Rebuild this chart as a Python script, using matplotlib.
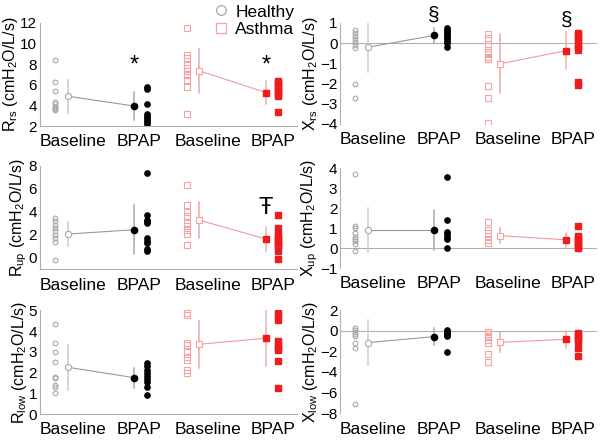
import matplotlib
matplotlib.use("Agg")
from matplotlib import pyplot as plt
from matplotlib.lines import Line2D

plt.rcParams['font.family'] = ['Liberation Sans', 'DejaVu Sans']

groups = ['Baseline', 'BPAP', 'Baseline', 'BPAP']
legend_labels = ['Healthy', 'Asthma']

# R rs
rrs_h_base = [8.4, 6.3, 5.4, 4.3, 4.1, 3.9, 3.8, 3.7, 3.6]
rrs_h_bpap = [5.8, 5.6, 4.1, 3.2, 3.0, 2.8, 2.6, 2.4, 2.2]
rrs_a_base = [11.5, 8.9, 8.6, 7.9, 7.6, 7.3, 7.0, 6.5, 5.8, 3.2]
rrs_a_bpap = [6.4, 6.2, 6.0, 5.8, 5.5, 5.3, 5.1, 4.9, 3.4]
rrs_mean = [4.9, 3.95, 7.35, 5.25]
rrs_sd = [1.6, 1.4, 2.15, 1.1]

# X rs
xrs_h_base = [0.65, 0.5, 0.35, 0.2, 0.05, -0.1, -0.25, -2.0, -2.7]
xrs_h_bpap = [0.75, 0.65, 0.55, 0.5, 0.4, 0.3, 0.2, 0.1, 0.0, -0.2]
xrs_a_base = [0.45, 0.25, -0.05, -0.15, -0.45, -0.55, -0.7, -0.8, -2.1, -2.7, -3.95]
xrs_a_bpap = [0.5, 0.4, 0.25, 0.15, -0.1, -0.2, -0.35, -1.9, -2.05]
xrs_mean = [-0.2, 0.38, -1.03, -0.37]
xrs_sd = [1.22, 0.36, 1.46, 0.92]

# R up
rup_h_base = [3.5, 3.2, 2.9, 2.6, 2.3, 2.0, 1.7, 1.35, -0.15]
rup_h_bpap = [7.4, 3.7, 3.3, 3.2, 3.0, 1.7, 1.5, 1.3, 0.8, 0.6]
rup_a_base = [6.3, 4.6, 4.0, 3.6, 3.0, 2.8, 2.4, 2.1, 1.1]
rup_a_bpap = [3.7, 2.6, 2.0, 1.8, 1.6, 1.4, 1.2, 1.0, 0.6, -0.1]
rup_mean = [2.07, 2.45, 3.28, 1.64]
rup_sd = [1.05, 2.15, 1.55, 1.08]

# X up
xup_h_base = [3.7, 1.1, 1.0, 0.75, 0.55, 0.45, 0.35, 0.2, -0.15]
xup_h_bpap = [3.55, 1.4, 0.8, 0.7, 0.55, 0.45, 0.0]
xup_a_base = [1.3, 0.9, 0.75, 0.6, 0.4, 0.25]
xup_a_bpap = [1.1, 0.6, 0.5, 0.4, 0.3, 0.2, 0.1, 0.0]
xup_mean = [0.92, 0.92, 0.63, 0.42]
xup_sd = [1.1, 1.0, 0.38, 0.34]

# R low
rlow_h_base = [4.35, 3.45, 3.0, 2.5, 1.8, 1.75, 1.4, 1.3, 1.0]
rlow_h_bpap = [2.45, 2.3, 2.15, 2.0, 1.85, 1.7, 1.55, 1.3, 0.9]
rlow_a_base = [4.9, 4.8, 3.45, 3.35, 3.0, 2.75, 2.6, 2.15, 2.0]
rlow_a_bpap = [4.9, 4.75, 4.55, 3.55, 3.3, 3.2, 3.1, 2.55, 1.25]
rlow_mean = [2.26, 1.76, 3.37, 3.66]
rlow_sd = [1.09, 0.48, 1.13, 1.32]

# X low
xlow_h_base = [0.3, 0.05, -0.15, -0.35, -0.5, -1.15, -1.7, -7.1]
xlow_h_bpap = [0.1, 0.0, -0.1, -0.2, -0.3, -0.45, -0.55, -2.1]
xlow_a_base = [-0.1, -0.3, -0.5, -0.65, -0.9, -1.15, -2.3, -3.0]
xlow_a_bpap = [-0.2, -0.4, -0.6, -0.8, -1.0, -1.7, -2.45]
xlow_mean = [-1.16, -0.58, -1.13, -0.84]
xlow_sd = [2.17, 0.84, 0.94, 0.83]

GREY = '#a8a8a8'
PINK = '#f4a4a4'
RED = '#ee1c1c'
FS = 12.5


def panel(ax, h_base, h_bpap, a_base, a_bpap, mean, sd, ylim, yticks, ylabel, zero_line):
    # individual values
    ax.plot([0.73] * len(h_base), h_base, 'o', mfc='none', mec=GREY, ms=3.4, mew=0.8)
    ax.plot([2.12] * len(h_bpap), h_bpap, 'o', color='black', ms=3.8)
    ax.plot([2.73] * len(a_base), a_base, 's', mfc='none', mec=PINK, ms=3.8, mew=0.8)
    ax.plot([4.1] * len(a_bpap), a_bpap, 's', color=RED, ms=4.2)

    # mean +- sd
    mx = [0.92, 1.92, 2.91, 3.92]
    ecol = ['#cccccc', '#aaaaaa', PINK, '#e8b0b0']
    for x, m, s, c in zip(mx, mean, sd, ecol):
        ax.plot([x, x], [m - s, m + s], color=c, lw=1.1, zorder=1)
    ax.plot(mx[:2], mean[:2], color='#999999', lw=0.8, zorder=2)
    ax.plot(mx[2:], mean[2:], color='#f29a9a', lw=0.8, zorder=2)
    ax.plot(mx[0], mean[0], 'o', mfc='white', mec=GREY, ms=4.5, mew=0.8)
    ax.plot(mx[1], mean[1], 'o', color='black', ms=4.5)
    ax.plot(mx[2], mean[2], 's', mfc='white', mec=PINK, ms=4.5, mew=0.8)
    ax.plot(mx[3], mean[3], 's', color=RED, ms=4.5)

    ax.set_xlim(0.5, 4.39)
    ax.set_ylim(*ylim)
    ax.set_yticks(yticks)
    ax.set_xticks([1, 2, 3.04, 4.02])
    ax.set_xticklabels(groups)
    ax.tick_params(length=0)
    ax.tick_params(axis='x', pad=6, labelsize=FS)
    ax.tick_params(axis='y', pad=2, labelsize=11)
    ax.set_ylabel(ylabel, fontsize=11.5, labelpad=0)
    for s in ['top', 'right']:
        ax.spines[s].set_visible(False)
    ax.spines['left'].set_color('#b0b0b0')
    ax.spines['bottom'].set_color('#b0b0b0')
    if zero_line:
        ax.spines['bottom'].set_visible(False)
        ax.axhline(0, color='#b0b0b0', lw=0.8, zorder=0)


fig = plt.figure(figsize=(6.01, 4.41), dpi=100)
ax1 = fig.add_axes([0.0666, 0.714, 0.428, 0.234])
ax2 = fig.add_axes([0.566, 0.719, 0.428, 0.229])
ax3 = fig.add_axes([0.0666, 0.389, 0.428, 0.235])
ax4 = fig.add_axes([0.566, 0.392, 0.428, 0.226])
ax5 = fig.add_axes([0.0666, 0.061, 0.428, 0.235])
ax6 = fig.add_axes([0.566, 0.063, 0.428, 0.234])

panel(ax1, rrs_h_base, rrs_h_bpap, rrs_a_base, rrs_a_bpap, rrs_mean, rrs_sd,
      (2, 12), range(2, 13, 2), r'R$\mathregular{_{rs}}$ (cmH$\mathregular{_2}$O/L/s)', False)
panel(ax2, xrs_h_base, xrs_h_bpap, xrs_a_base, xrs_a_bpap, xrs_mean, xrs_sd,
      (-4, 1), range(-4, 2), r'X$\mathregular{_{rs}}$ (cmH$\mathregular{_2}$O/L/s)', True)
panel(ax3, rup_h_base, rup_h_bpap, rup_a_base, rup_a_bpap, rup_mean, rup_sd,
      (-1, 8), range(0, 9, 2), r'R$\mathregular{_{up}}$ (cmH$\mathregular{_2}$O/L/s)', False)
panel(ax4, xup_h_base, xup_h_bpap, xup_a_base, xup_a_bpap, xup_mean, xup_sd,
      (-1, 4), range(-1, 5), r'X$\mathregular{_{up}}$ (cmH$\mathregular{_2}$O/L/s)', True)
panel(ax5, rlow_h_base, rlow_h_bpap, rlow_a_base, rlow_a_bpap, rlow_mean, rlow_sd,
      (0, 5), range(0, 6), r'R$\mathregular{_{low}}$ (cmH$\mathregular{_2}$O/L/s)', False)
panel(ax6, xlow_h_base, xlow_h_bpap, xlow_a_base, xlow_a_bpap, xlow_mean, xlow_sd,
      (-8, 2), range(-8, 3, 2), r'X$\mathregular{_{low}}$ (cmH$\mathregular{_2}$O/L/s)', True)

# significance marks
ax1.text(1.92, 7.9, '*', ha='center', va='center', fontsize=17)
ax1.text(3.92, 7.9, '*', ha='center', va='center', fontsize=17)
ax2.text(1.92, 1.4, '§', ha='center', va='center', fontsize=15)
ax2.text(3.92, 1.15, '§', ha='center', va='center', fontsize=15)
ax3.text(3.92, 4.3, 'Ŧ', ha='center', va='center', fontsize=17)

handles = [Line2D([], [], ls='none', marker='o', mfc='none', mec=GREY, ms=7, mew=0.9),
           Line2D([], [], ls='none', marker='s', mfc='none', mec=PINK, ms=7, mew=0.9)]
fig.legend(handles, legend_labels, loc='upper right', bbox_to_anchor=(0.49, 0.99),
           frameon=False, fontsize=FS, handlelength=0.7, handletextpad=0.5,
           labelspacing=0.15, borderpad=0, borderaxespad=0)

fig.savefig('out.png', dpi=100)
